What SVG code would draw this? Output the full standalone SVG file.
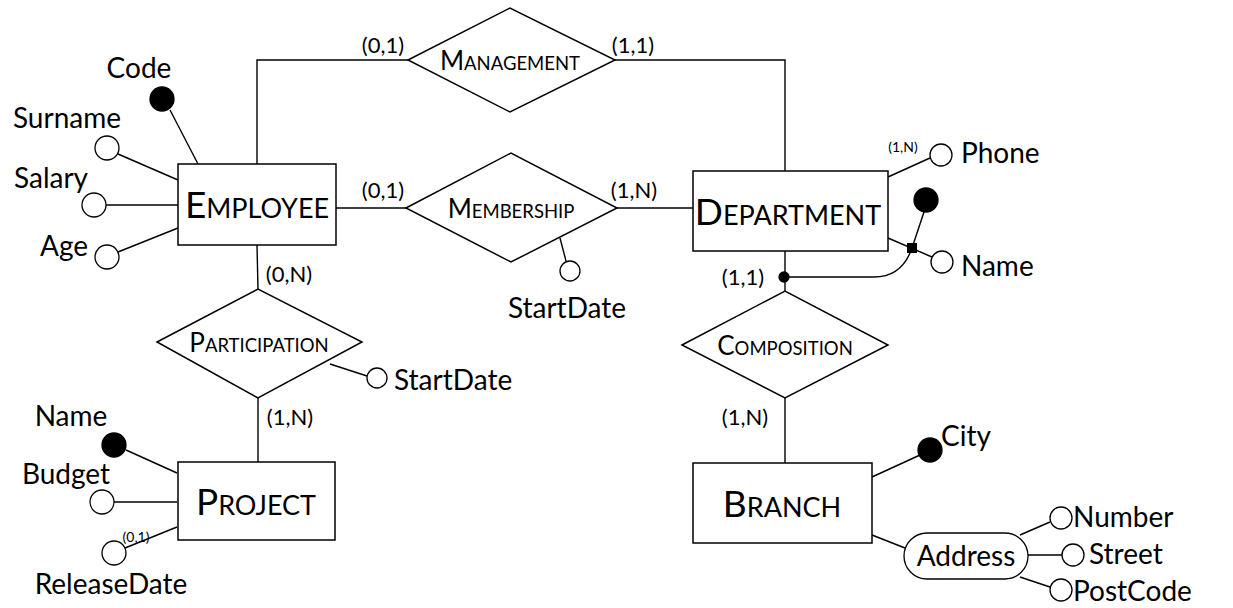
<svg xmlns="http://www.w3.org/2000/svg" width="1233" height="608" viewBox="0 0 1233 608">
<style>
.box{fill:#fff;stroke:#000;stroke-width:1.5}
.ln{fill:none;stroke:#000;stroke-width:1.4}
.att{fill:#fff;stroke:#000;stroke-width:1.3}
.key{fill:#000;stroke:#000;stroke-width:1.3}
text{font-family:Lato,"Open Sans","DejaVu Sans",sans-serif;fill:#000}
.lbl{font-size:28px}
.card{font-size:22px}
.sm{font-size:14px}
.ent{font-size:37px}
.ent tspan.s{font-size:27px}
.rel{font-size:26px}
.rel tspan.s{font-size:18.5px}
</style>
<rect width="1233" height="608" fill="#fff"/>
<g id="connectors">
<polyline class="ln" points="257,164 257,60 408,60"/>
<polyline class="ln" points="615,60 785,60 785,171"/>
<line class="ln" x1="336" y1="208" x2="406" y2="208"/>
<line class="ln" x1="617" y1="208" x2="693" y2="208"/>
<line class="ln" x1="560" y1="238" x2="566" y2="261"/>
<line class="ln" x1="257" y1="245" x2="258" y2="289"/>
<line class="ln" x1="258" y1="398" x2="258" y2="462"/>
<line class="ln" x1="330" y1="364" x2="367" y2="376"/>
<line class="ln" x1="785" y1="251" x2="785" y2="291"/>
<line class="ln" x1="785" y1="398" x2="785" y2="463"/>
<line class="ln" x1="170" y1="110" x2="198" y2="164"/>
<line class="ln" x1="118" y1="154" x2="178" y2="180"/>
<line class="ln" x1="106" y1="205" x2="178" y2="205"/>
<line class="ln" x1="118" y1="252" x2="178" y2="228"/>
<line class="ln" x1="126" y1="450" x2="177" y2="473"/>
<line class="ln" x1="114" y1="502" x2="177" y2="502"/>
<line class="ln" x1="125" y1="548" x2="177" y2="527"/>
<line class="ln" x1="888" y1="177" x2="930" y2="158"/>
<line class="ln" x1="888" y1="238" x2="932" y2="257"/>
<line class="ln" x1="924" y1="212" x2="912" y2="248"/>
<path class="ln" d="M912,248 Q902,277 874,277 L784,277"/>
<line class="ln" x1="872" y1="477" x2="920" y2="455"/>
<line class="ln" x1="872" y1="535" x2="905" y2="548"/>
<line class="ln" x1="1020" y1="535" x2="1050" y2="522"/>
<line class="ln" x1="1028" y1="555" x2="1062" y2="555"/>
<line class="ln" x1="1020" y1="577" x2="1050" y2="587"/>
</g>
<g id="employee">
<rect class="box" x="178" y="164" width="158" height="81"/>
<text class="ent" x="257" y="218" text-anchor="middle">E<tspan class="s">MPLOYEE</tspan></text>
</g>
<g id="department">
<rect class="box" x="693" y="171" width="195" height="80"/>
<text class="ent" x="788" y="225" text-anchor="middle">D<tspan class="s">EPARTMENT</tspan></text>
</g>
<g id="project">
<rect class="box" x="178" y="462" width="157" height="78"/>
<text class="ent" x="256" y="515" text-anchor="middle">P<tspan class="s">ROJECT</tspan></text>
</g>
<g id="branch">
<rect class="box" x="693" y="463" width="179" height="80"/>
<text class="ent" x="782" y="517" text-anchor="middle">B<tspan class="s">RANCH</tspan></text>
</g>
<g id="management">
<polygon class="box" points="408,60 510,8 615,60 510,112"/>
<text class="rel" x="510" y="70" text-anchor="middle">M<tspan class="s">ANAGEMENT</tspan></text>
</g>
<g id="membership">
<polygon class="box" points="406,208 511,153 617,208 511,262"/>
<text class="rel" x="511" y="218" text-anchor="middle">M<tspan class="s">EMBERSHIP</tspan></text>
</g>
<g id="participation">
<polygon class="box" points="157,342 258,289 362,342 258,398"/>
<text class="rel" x="259" y="352" text-anchor="middle">P<tspan class="s">ARTICIPATION</tspan></text>
</g>
<g id="composition">
<polygon class="box" points="682,345 785,291 888,345 785,398"/>
<text class="rel" x="785" y="355" text-anchor="middle">C<tspan class="s">OMPOSITION</tspan></text>
</g>
<g id="cardinalities">
<text class="card" x="383" y="53" text-anchor="middle">(0,1)</text>
<text class="card" x="633" y="53" text-anchor="middle">(1,1)</text>
<text class="card" x="383" y="198" text-anchor="middle">(0,1)</text>
<text class="card" x="634" y="198" text-anchor="middle">(1,N)</text>
<text class="card" x="289" y="282" text-anchor="middle">(0,N)</text>
<text class="card" x="290" y="425" text-anchor="middle">(1,N)</text>
<text class="card" x="743" y="285" text-anchor="middle">(1,1)</text>
<text class="card" x="745" y="425" text-anchor="middle">(1,N)</text>
<text class="sm" x="903" y="152" text-anchor="middle">(1,N)</text>
<text class="sm" x="136" y="542" text-anchor="middle">(0,1)</text>
</g>
<g id="attr-code"><circle class="key" cx="162" cy="99" r="12"/><text class="lbl" x="139" y="78" text-anchor="middle">Code</text></g>
<g id="attr-surname"><circle class="att" cx="107" cy="148" r="12"/><text class="lbl" x="67" y="128" text-anchor="middle">Surname</text></g>
<g id="attr-salary"><circle class="att" cx="94" cy="205" r="12"/><text class="lbl" x="51" y="188" text-anchor="middle">Salary</text></g>
<g id="attr-age"><circle class="att" cx="107" cy="257" r="12"/><text class="lbl" x="88" y="256" text-anchor="end">Age</text></g>
<g id="attr-membership-startdate"><circle class="att" cx="570" cy="271" r="10"/><text class="lbl" x="567" y="318" text-anchor="middle">StartDate</text></g>
<g id="attr-participation-startdate"><circle class="att" cx="377" cy="378" r="10"/><text class="lbl" x="394" y="390">StartDate</text></g>
<g id="attr-project-name"><circle class="key" cx="114" cy="445" r="12"/><text class="lbl" x="71" y="426" text-anchor="middle">Name</text></g>
<g id="attr-budget"><circle class="att" cx="102" cy="502" r="12"/><text class="lbl" x="66" y="484" text-anchor="middle">Budget</text></g>
<g id="attr-releasedate"><circle class="att" cx="114" cy="553" r="12"/><text class="lbl" x="111" y="594" text-anchor="middle">ReleaseDate</text></g>
<g id="attr-phone"><circle class="att" cx="941" cy="155" r="11"/><text class="lbl" x="961" y="163">Phone</text></g>
<g id="attr-dept-name">
<circle class="key" cx="926" cy="200" r="12"/>
<rect x="907" y="243" width="10" height="10" fill="#000"/>
<circle class="key" cx="784" cy="277" r="5"/>
<circle class="att" cx="942" cy="262" r="11"/>
<text class="lbl" x="961" y="276">Name</text>
</g>
<g id="attr-city"><circle class="key" cx="930" cy="450" r="12"/><text class="lbl" x="941" y="446">City</text></g>
<g id="attr-address">
<rect class="att" x="904" y="533" width="124" height="46" rx="23"/>
<text class="lbl" x="966" y="566" text-anchor="middle">Address</text>
</g>
<g id="attr-number"><circle class="att" cx="1061" cy="518" r="11"/><text class="lbl" x="1073" y="527">Number</text></g>
<g id="attr-street"><circle class="att" cx="1073" cy="555" r="11"/><text class="lbl" x="1089" y="564">Street</text></g>
<g id="attr-postcode"><circle class="att" cx="1061" cy="590" r="11"/><text class="lbl" x="1073" y="601">PostCode</text></g>
</svg>
